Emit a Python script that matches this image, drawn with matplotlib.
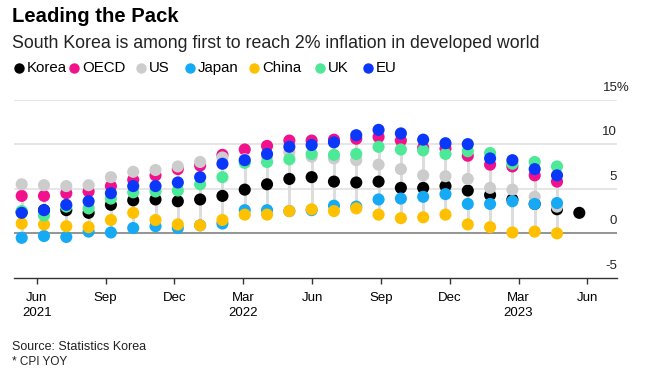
import numpy as np
import matplotlib.pyplot as plt
from matplotlib.lines import Line2D

plt.rcParams['font.family'] = ['Liberation Sans', 'DejaVu Sans']

nan = np.nan

# monthly CPI YoY, Jun 2021 .. Jul 2023
korea = [2.4, 2.6, 2.6, 2.3, 3.2, 3.7, 3.8, 3.6, 3.8, 4.2, 4.9, 5.5, 6.1, 6.3, 5.8, 5.7,
         5.8, 5.1, 5.1, 5.3, 4.8, 4.3, 3.8, 3.3, 2.7, 2.3]
oecd = [4.2, 4.2, 4.5, 4.7, 5.3, 6.0, 6.5, 7.2, 7.6, 8.8, 9.4, 9.8, 10.4, 10.4, 10.5, 10.6,
        10.8, 10.4, 9.6, 9.5, 8.7, 7.7, 7.5, 6.5, 5.8, nan]
us = [5.5, 5.4, 5.3, 5.4, 6.3, 6.9, 7.1, 7.5, 8.0, 8.5, 8.3, 8.6, 9.1, 8.6, 8.4, 8.2,
      7.7, 7.2, 6.5, 6.4, 6.1, 5.1, 4.9, 4.1, 3.0, nan]
japan = [-0.5, -0.3, -0.4, 0.2, 0.1, 0.6, 0.8, 0.6, 0.9, 1.1, 2.6, 2.6, 2.5, 2.6, 3.1, 3.0,
         3.8, 3.9, 4.1, 4.4, 3.3, 3.3, 3.6, 3.3, 3.4, nan]
china = [1.1, 1.0, 0.8, 0.7, 1.5, 2.3, 1.5, 1.0, 0.9, 1.5, 2.1, 2.1, 2.5, 2.7, 2.5, 2.8,
         2.1, 1.7, 1.8, 2.1, 1.0, 0.7, 0.1, 0.2, 0.0, nan]
uk = [2.5, 2.0, 3.0, 2.8, 3.9, 4.6, 4.7, 4.8, 5.5, 6.3, 7.9, 8.0, 8.3, 8.9, 8.8, 8.9,
      9.7, 9.4, 9.3, 8.9, 9.2, 9.0, 7.8, 8.0, 7.5, nan]
eu = [2.3, 2.6, 3.2, 3.6, 4.5, 5.3, 5.3, 5.7, 6.3, 7.8, 8.2, 8.9, 9.7, 9.9, 10.2, 11.0,
      11.6, 11.2, 10.5, 10.1, 10.0, 8.4, 8.2, 7.2, 6.5, nan]

names = ["Korea", "OECD", "US", "Japan", "China", "UK", "EU"]
colors = ["#000000", "#f2118c", "#cccccc", "#16aaf5", "#ffc000", "#4de996", "#0a37fa"]
values = [korea, oecd, us, japan, china, uk, eu]

tick_labels = ["Jun\n2021", "Sep", "Dec", "Mar\n2022", "Jun", "Sep", "Dec", "Mar\n2023", "Jun"]

fig = plt.figure(figsize=(6.45, 3.77), dpi=100)
ax = fig.add_axes([14 / 645, 1 - 278 / 377, 603 / 645, 178.5 / 377])

data = np.array(values, dtype=float)
x = np.arange(data.shape[1])

# range line per month
lo = np.nanmin(data, axis=0)
hi = np.nanmax(data, axis=0)
ax.vlines(x, lo, hi, color="#dddddd", lw=2.2, zorder=2)

for i, (name, vals, c) in enumerate(zip(names, values, colors)):
    ax.scatter(x, vals, s=76, color=c, edgecolors="none", zorder=3 + i)

# grid
for g in [5, 10, 15]:
    ax.axhline(g, color="#e6e6e6", lw=1.4, zorder=0)
ax.axhline(0, color="#777777", lw=1.1, zorder=1)

ax.set_ylim(-5, 15)
ax.set_xlim(-0.345, 26.69)
ax.set_yticks([])

for s in ["top", "right", "left"]:
    ax.spines[s].set_visible(False)
ax.spines["bottom"].set_color("#333333")
ax.spines["bottom"].set_linewidth(1.0)

xt = [0.673 + 3.086 * k for k in range(len(tick_labels))]
ax.set_xticks(xt)
ax.set_xticklabels(tick_labels, fontsize=9.5, linespacing=1.4)
ax.tick_params(axis="x", length=4, width=1, color="#333333", pad=6)

# y labels sitting above the gridlines
for v, lab in [(10, "10"), (5, "5"), (0, "0"), (-5, "-5")]:
    ax.text(1.0, v + 1.0, lab, transform=ax.get_yaxis_transform(), ha="right",
            va="baseline", fontsize=9.5, color="#222222")
ax.text(1.0216, 16.0, "15%", transform=ax.get_yaxis_transform(), ha="right",
        va="baseline", fontsize=9.5, color="#222222")

# titles
fig.text(12 / 645, 1 - 17 / 377, "Leading the Pack", fontsize=14.6, fontweight="bold",
         va="center", ha="left")
fig.text(12 / 645, 1 - 44 / 377, "South Korea is among first to reach 2% inflation in developed world",
         fontsize=12.8, va="center", ha="left", color="#222222")

# legend
leg_x = [19, 74, 141, 190, 254, 320, 368]
for name, c, lx in zip(names, colors, leg_x):
    fig.add_artist(Line2D([lx / 645], [1 - 68 / 377], transform=fig.transFigure,
                          marker="o", ms=7.5, color=c, ls="", mec="none"))
    fig.text((lx + 8) / 645, 1 - 68 / 377, name, fontsize=10.8, va="center", ha="left")

fig.text(12 / 645, 1 - 347 / 377, "Source: Statistics Korea", fontsize=9, va="center", color="#222222")
fig.text(12 / 645, 1 - 362 / 377, "* CPI YOY", fontsize=8.5, va="center", color="#222222")

fig.savefig("out.png", dpi=100)
